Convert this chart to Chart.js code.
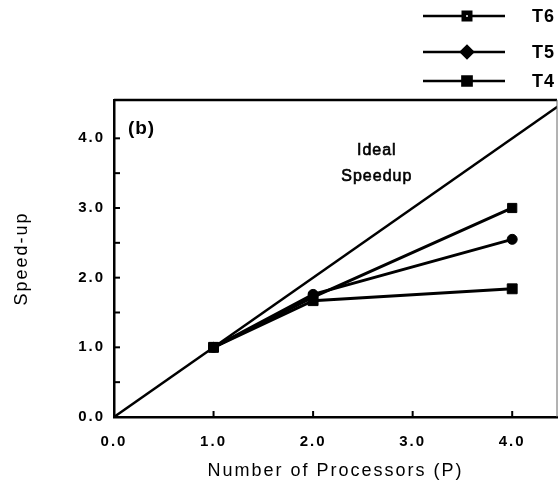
<!DOCTYPE html>
<html>
<head>
<meta charset="utf-8">
<script src="https://cdn.jsdelivr.net/npm/chart.js@4"></script>
<style>
  html, body { margin: 0; padding: 0; background: #fff; overflow: hidden; }
  canvas { display: block; }
</style>
</head>
<body>
<canvas id="speedChart" width="559" height="484"></canvas>
<script>
// data
var processors = [1, 2, 4];
var t6 = [1.0, 1.72, 3.0];
var t5 = [1.0, 1.76, 2.55];
var t4 = [1.0, 1.67, 1.84];
var idealX = [0, 4.55];
var idealY = [0, 4.55];
var seriesNames = ["T6", "T5", "T4"];

function pts(xs, ys) {
  return xs.map(function (x, i) { return { x: x, y: ys[i] }; });
}

var FONT = "'Liberation Sans', Arial, Helvetica, sans-serif";

// figure style: inward ticks, frame, legend, notes
var figurePlugin = {
  id: "figure",
  beforeUpdate: function (chart) { chart.ctx.letterSpacing = "2px"; },
  beforeDraw: function (chart) { chart.ctx.letterSpacing = "2px"; },
  afterDraw: function (chart) {
    var ctx = chart.ctx, a = chart.chartArea;
    var xs = chart.scales.x, ys = chart.scales.y;
    ctx.save();
    ctx.strokeStyle = "#000";
    ctx.lineWidth = 2.5;
    // frame
    ctx.beginPath();
    ctx.moveTo(a.left, a.top); ctx.lineTo(a.right, a.top);
    ctx.stroke();
    ctx.lineWidth = 1;
    ctx.strokeStyle = "#666";
    ctx.beginPath();
    ctx.moveTo(a.right, a.top); ctx.lineTo(a.right, a.bottom);
    ctx.stroke();
    // inward ticks
    ctx.strokeStyle = "#000";
    ctx.lineWidth = 2;
    ys.ticks.forEach(function (t) {
      if (t.value <= 0) return;
      var py = ys.getPixelForValue(t.value);
      ctx.beginPath(); ctx.moveTo(a.left, py); ctx.lineTo(a.left + 6, py); ctx.stroke();
    });
    xs.ticks.forEach(function (t) {
      if (t.value <= 0) return;
      var px = xs.getPixelForValue(t.value);
      ctx.beginPath(); ctx.moveTo(px, a.bottom); ctx.lineTo(px, a.bottom - 6); ctx.stroke();
    });
    // notes
    ctx.fillStyle = "#000";
    ctx.letterSpacing = "1px";
    ctx.font = "bold 19px " + FONT;
    ctx.textAlign = "left";
    ctx.textBaseline = "middle";
    ctx.fillText("(b)", xs.getPixelForValue(0.14), ys.getPixelForValue(4.13));
    ctx.font = "16px " + FONT;
    ctx.lineWidth = 0.6;
    ctx.textAlign = "center";
    ctx.fillText("Ideal", xs.getPixelForValue(2.64), ys.getPixelForValue(3.82));
    ctx.strokeText("Ideal", xs.getPixelForValue(2.64), ys.getPixelForValue(3.82));
    ctx.fillText("Speedup", xs.getPixelForValue(2.64), ys.getPixelForValue(3.45));
    ctx.strokeText("Speedup", xs.getPixelForValue(2.64), ys.getPixelForValue(3.45));
    // legend, stacked top right
    var rows = [16, 52, 81];
    chart.data.datasets.forEach(function (ds, i) {
      if (i === 0) return;
      var y = rows[i - 1];
      ctx.strokeStyle = "#000";
      ctx.lineWidth = 2.5;
      ctx.beginPath(); ctx.moveTo(423, y); ctx.lineTo(505, y); ctx.stroke();
      ctx.fillStyle = "#000";
      var style = ds.legendStyle || ds.pointStyle;
      Chart.helpers.drawPoint(ctx, { pointStyle: style, radius: ds.legendRadius, rotation: 0, borderWidth: 1 }, 467, y);
      if (ds.centreDot) {
        ctx.fillStyle = "#bbb";
        ctx.fillRect(466, y - 1, 2, 2);
        ctx.fillStyle = "#000";
      }
      ctx.letterSpacing = "1px";
      ctx.font = "bold 18px " + FONT;
      ctx.textAlign = "left";
      ctx.fillText(ds.label, 532, y + 1);
    });
    ctx.restore();
  }
};

var ctx = document.getElementById("speedChart");
var myChart = new Chart(ctx, {
  type: "line",
  data: {
    datasets: [
      { label: "Ideal", data: pts(idealX, idealY), borderColor: "#000", borderWidth: 2.5, pointRadius: 0 },
      { label: seriesNames[0], data: pts(processors, t6), borderColor: "#000", backgroundColor: "#000",
        borderWidth: 3, pointStyle: "rect", pointRadius: 6.5, pointBorderWidth: 1,
        legendRadius: 6, centreDot: true },
      { label: seriesNames[1], data: pts(processors, t5), borderColor: "#000", backgroundColor: "#000",
        borderWidth: 3, pointStyle: "circle", legendStyle: "rectRot", pointRadius: 5, pointBorderWidth: 1,
        legendRadius: 6 },
      { label: seriesNames[2], data: pts(processors, t4), borderColor: "#000", backgroundColor: "#000",
        borderWidth: 3, pointStyle: "rect", pointRadius: 7, pointBorderWidth: 1,
        legendRadius: 6.5 }
    ]
  },
  options: {
    responsive: false,
    animation: false,
    layout: { autoPadding: false, padding: { top: 100, right: 2, left: 0, bottom: 0 } },
    plugins: { legend: { display: false }, tooltip: { enabled: false } },
    scales: {
      x: {
        type: "linear",
        min: 0,
        max: 4.45,
        grid: { display: false, drawTicks: false },
        border: { display: true, color: "#000", width: 2.5 },
        ticks: {
          stepSize: 1,
          includeBounds: false,
          padding: 16,
          color: "#000",
          font: { family: FONT, size: 15, weight: "bold" },
          callback: function (v) { return v.toFixed(1); }
        },
        title: {
          display: true,
          text: "Number of Processors (P)",
          color: "#000",
          font: { family: FONT, size: 18 },
          padding: { top: 6, bottom: 2 }
        },
        afterFit: function (s) { s.height = 67; }
      },
      y: {
        type: "linear",
        min: 0,
        max: 4.55,
        grid: { display: false, drawTicks: false },
        border: { display: true, color: "#000", width: 2.5 },
        ticks: {
          stepSize: 0.5,
          padding: 9,
          color: "#000",
          font: { family: FONT, size: 15, weight: "bold" },
          callback: function (v) { return Number.isInteger(v) ? v.toFixed(1) : ""; }
        },
        title: {
          display: true,
          text: "Speed-up",
          color: "#000",
          font: { family: FONT, size: 18 },
          padding: { top: 11, bottom: 0 }
        },
        afterFit: function (s) { s.width = 114; }
      }
    }
  },
  plugins: [figurePlugin]
});
</script>
</body>
</html>
